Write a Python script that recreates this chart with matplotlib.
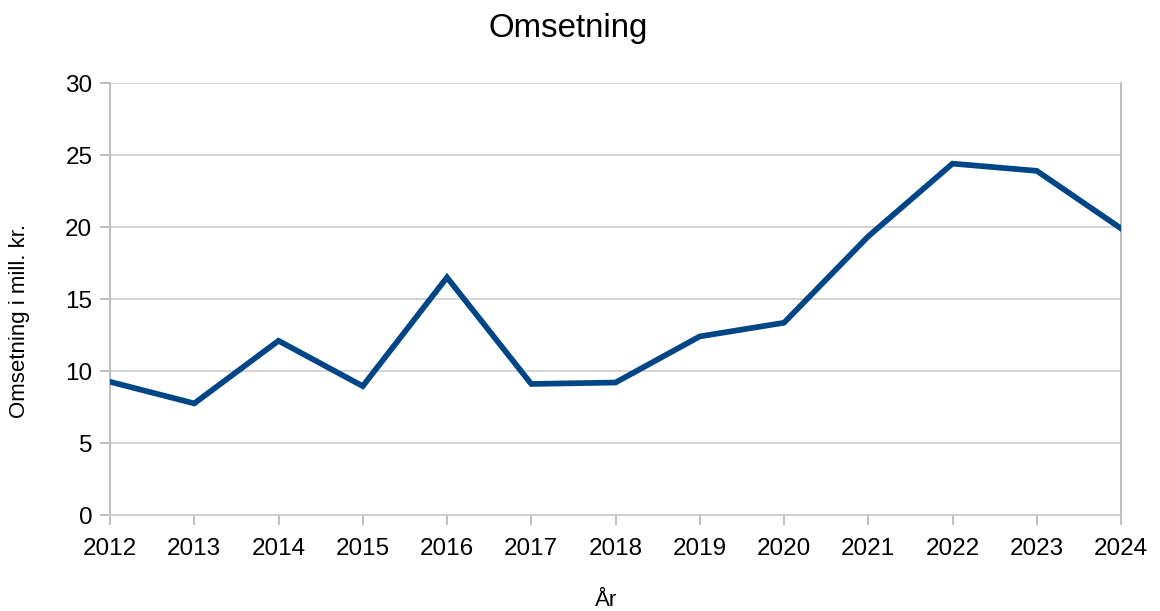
import matplotlib.pyplot as plt

years = [2012, 2013, 2014, 2015, 2016, 2017, 2018, 2019, 2020, 2021, 2022, 2023, 2024]
omsetning = [9.25, 7.75, 12.1, 8.95, 16.5, 9.1, 9.2, 12.4, 13.35, 19.35, 24.4, 23.9, 19.9]

plt.rcParams['font.family'] = ['Liberation Sans', 'DejaVu Sans']

W, H = 1160, 611
fig = plt.figure(figsize=(W / 100, H / 100), dpi=100)
ax = fig.add_axes([110 / W, 1 - 515 / H, (1121 - 110) / W, (515 - 83) / H])

ax.plot(years, omsetning, color='#004586', linewidth=4.1, solid_joinstyle='miter', zorder=3)

ax.set_xlim(2012, 2024)
ax.set_ylim(0, 30)
ax.set_xticks(years)
ax.set_yticks(range(0, 31, 5))
ax.grid(axis='y', color='#cccccc', linewidth=1.2)
ax.set_axisbelow(True)

for side in ['left', 'right', 'bottom']:
    ax.spines[side].set_color('#b3b3b3')
    ax.spines[side].set_linewidth(1.2)
ax.spines['top'].set_visible(False)
ax.spines['bottom'].set_color('#cccccc')

ax.tick_params(axis='both', colors='#b3b3b3', labelcolor='black', labelsize=17.5, length=7.2, width=1.2)
ax.tick_params(axis='x', pad=9.2)
ax.tick_params(axis='y', pad=5.5)

# title and axis titles placed like the original chart
fig.text(568 / W, 1 - 37 / H, 'Omsetning', fontsize=23.8, ha='center', va='baseline')
fig.text(606 / W, 1 - 606 / H, 'År', fontsize=16, ha='center', va='baseline')
fig.text(20 / W, 1 - 321 / H, 'Omsetning i mill. kr.', fontsize=16, rotation=90,
         ha='center', va='center')

fig.savefig('out.png', dpi=100)
